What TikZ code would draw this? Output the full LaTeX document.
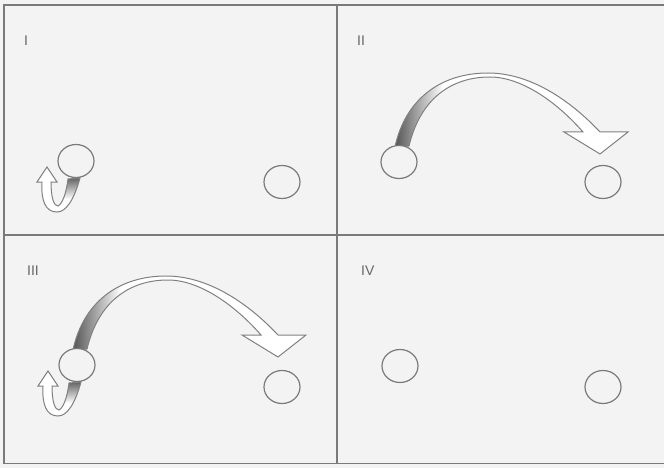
\documentclass[tikz,border=0pt]{standalone}
\usepackage{fontspec}
\setsansfont{Liberation Sans}
\usetikzlibrary{shapes.geometric}
\definecolor{bgc}{HTML}{F3F3F3}
\definecolor{linec}{HTML}{7A7A7A}
\definecolor{arrc}{HTML}{808080}
\definecolor{shadec}{HTML}{555555}
\definecolor{labc}{HTML}{666666}
\pgfdeclarelayer{bgl}
\pgfdeclarelayer{midl}
\pgfsetlayers{bgl,midl,main}
\tikzset{
  ball/.style={ellipse, draw=linec, line width=1.2pt, fill=bgc, minimum width=36pt, minimum height=33pt, inner sep=0pt},
  framel/.style={draw=linec, line width=1.4pt},
  paneltxt/.style={font=\sffamily\fontsize{14}{14}\selectfont, text=labc, anchor=base west, inner sep=0pt},
  ribbon/.style={draw=arrc, line width=1pt, line join=miter},
  bigarrow/.pic={
    \path[save path=\ribpath] (-4,-15) .. controls (6,-62) and (41,-89) .. (89,-89)
      .. controls (131,-89) and (171,-62) .. (201,-30)
      -- (229,-30) -- (201,-8) -- (165,-30) -- (184,-30)
      .. controls (156,-62) and (121,-85) .. (91,-85)
      .. controls (51,-85) and (21,-62) .. (10,-16) -- cycle;
    \fill[white, use path=\ribpath];
    \begin{scope}
      \clip[use path=\ribpath];
      \shade[left color=shadec, right color=white] (-4,-95) rectangle (44,-10);
    \end{scope}
    \draw[ribbon, use path=\ribpath];
  },
  smallloop/.pic={
    \path[save path=\looppath] (4,17) .. controls (-2,39) and (-10,51) .. (-19,51)
      .. controls (-31,51) and (-35,39) .. (-34,21)
      -- (-39,21) -- (-29,6) -- (-19,21) -- (-25,21)
      .. controls (-25,37) and (-22,45) .. (-18,45)
      .. controls (-14,43) and (-10,34) .. (-8,18) -- cycle;
    \fill[white, use path=\looppath];
    \begin{scope}
      \clip[use path=\looppath];
      \shade[top color=shadec, bottom color=white] (-16,15) rectangle (8,38);
    \end{scope}
    \draw[ribbon, use path=\looppath];
  }
}
\begin{document}
\begin{tikzpicture}[x=1pt, y=-1pt]
\useasboundingbox (0,0) rectangle (664,468);
\begin{pgfonlayer}{bgl}
  \fill[bgc] (0,0) rectangle (664,468);
\end{pgfonlayer}
% frame
\draw[framel] (664,5) -- (4,5) -- (4,463.5) -- (664,463.5);
\draw[framel] (337,5) -- (337,463.5);
\draw[framel] (4,235) -- (664,235);
% labels
\node[paneltxt] (l1) at (24,46) {I};
\node[paneltxt] (l2) at (357,46) {II};
\node[paneltxt] (l3) at (27,275) {III};
\node[paneltxt] (l4) at (361,275) {IV};
% balls
\node[ball] (c1a) at (76,161) {};
\node[ball] (c1b) at (282,182) {};
\node[ball] (c2a) at (399,162) {};
\node[ball] (c2b) at (603,182) {};
\node[ball] (c3a) at (77,365) {};
\node[ball] (c3b) at (282,387) {};
\node[ball] (c4a) at (400,366) {};
\node[ball] (c4b) at (603,387) {};
% arrows
\begin{pgfonlayer}{midl}
  \pic at (c1a.center) {smallloop};
  \pic at (c2a.center) {bigarrow};
  \pic at (c3a.center) {bigarrow};
  \pic at (c3a.center) {smallloop};
\end{pgfonlayer}
\end{tikzpicture}
\end{document}
